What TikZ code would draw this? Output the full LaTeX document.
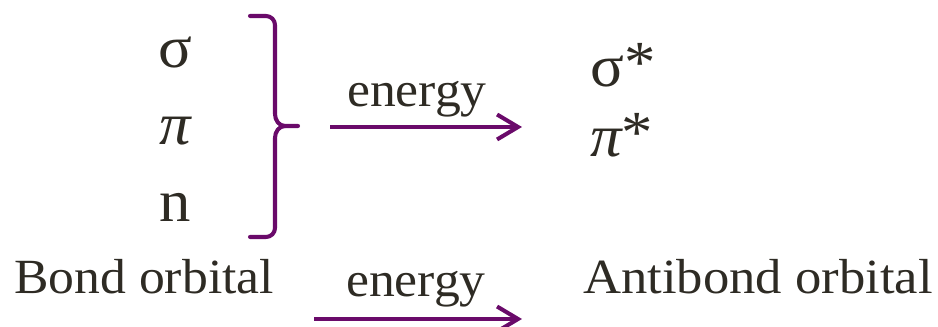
\documentclass[tikz,border=0pt]{standalone}
\usepackage{fontspec}
\setmainfont{Liberation Serif}[FakeStretch=1.05]
\usetikzlibrary{arrows.meta}
\definecolor{ink}{HTML}{2E2B24}
\definecolor{purp}{HTML}{6A0A6A}
\tikzset{
  lbl/.style={inner sep=0pt, text=ink, font=\fontsize{28}{30}\selectfont},
  grk/.style={inner sep=0pt, text=ink, font=\fontsize{34}{36}\selectfont},
  conn/.style={draw=purp, line width=2.3pt, -{Straight Barb[length=0.42cm,width=0.5cm,line width=2.3pt]}},
  brk/.style={draw=purp, line width=2.3pt, line cap=round, line join=round}
}
\begin{document}
\begin{tikzpicture}[x=0.02cm,y=-0.02cm]
\useasboundingbox (0,0) rectangle (938,327);
% left column
\node[grk, anchor=base] (sig) at (175,68) {σ};
\node[grk, anchor=base] (pi) at (175,145) {\itshape π};
\node[grk, anchor=base] (n) at (175,222) {n};
\node[lbl, anchor=base west] (bond) at (14,294) {Bond orbital};
% bracket
\draw[brk] (250,16) -- (266,16) to[out=0,in=90] (275,25) -- (275,114)
  to[out=-90,in=180] (285,126) -- (298,126);
\draw[brk] (285,126) to[out=180,in=90] (275,138) -- (275,228)
  to[out=-90,in=0] (266,237) -- (250,237);
\coordinate (bt) at (298,126);
% arrows
\coordinate (a1s) at (330,127);
\coordinate (a1e) at (522,127);
\draw[conn] (a1s) -- (a1e);
\node[lbl, anchor=base] (e1) at (417,107) {energy};
\coordinate (a2s) at (314,319);
\coordinate (a2e) at (522,319);
\draw[conn] (a2s) -- (a2e);
\node[lbl, anchor=base] (e2) at (416,297) {energy};
% right column
\node[grk, anchor=base west] (sigs) at (590,87) {σ\raisebox{0.08em}{*}};
\node[grk, anchor=base west] (pis) at (590,157) {\itshape π\upshape\raisebox{0.08em}{*}};
\node[lbl, anchor=base west, font=\fontsize{28}{30}\addfontfeature{FakeStretch=1.07}] (anti) at (583,294) {Antibond orbital};
\end{tikzpicture}
\end{document}
